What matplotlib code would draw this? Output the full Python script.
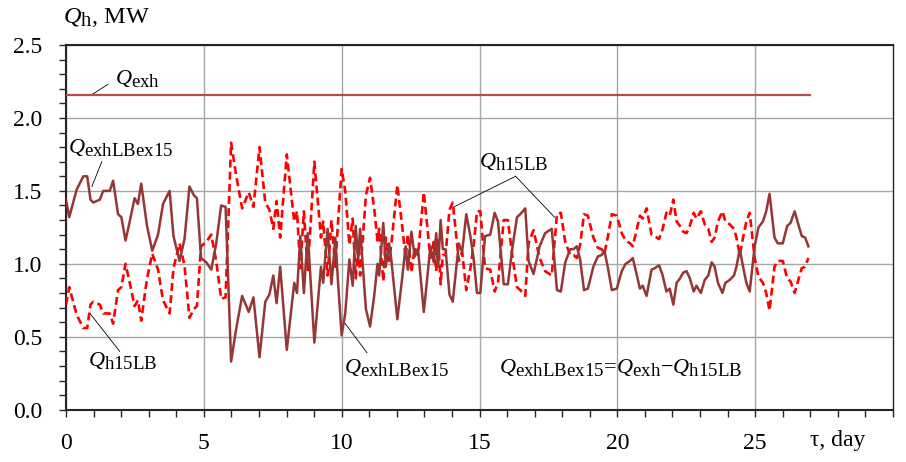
import matplotlib
matplotlib.use("Agg")
import matplotlib.pyplot as plt
from matplotlib.ticker import MultipleLocator
import matplotlib._mathtext as _mt

# larger subscripts, closer to the reference's typesetting
_mt.SHRINK_FACTOR = 0.85

plt.rcParams['font.family'] = ['Liberation Serif', 'DejaVu Serif']
plt.rcParams['mathtext.fontset'] = 'custom'
plt.rcParams['mathtext.rm'] = 'Liberation Serif'
plt.rcParams['mathtext.it'] = 'Liberation Serif:italic'

# ---- data ----
q_exh_value = 2.16
q_exh_days = [0.0, 27.0]
q_exh = [q_exh_value, q_exh_value]

days = [
    0.00, 0.12, 0.39, 0.63, 0.77, 0.89, 0.99, 1.23, 1.35, 1.59,
    1.71, 1.89, 2.01, 2.16, 2.28, 2.49, 2.61, 2.73, 2.94, 3.13,
    3.34, 3.52, 3.76, 3.90, 4.12, 4.30, 4.48, 4.64, 4.75, 4.90,
    5.09, 5.27, 5.45, 5.63, 5.79, 5.99, 6.17, 6.39, 6.63, 6.80,
    7.02, 7.23, 7.38, 7.52, 7.64, 7.77, 8.01, 8.28, 8.38, 8.50,
    8.63, 8.77, 9.01, 9.25, 9.33, 9.49, 9.63, 9.77, 9.87, 10.00,
    10.13, 10.28, 10.40, 10.51, 10.60, 10.67, 10.88, 11.03, 11.18, 11.30,
    11.36, 11.51, 11.60, 11.72, 11.80, 12.02, 12.20, 12.32, 12.40, 12.53,
    12.65, 12.77, 12.98, 13.22, 13.34, 13.43, 13.50, 13.59, 13.67, 13.77,
    13.91, 14.03, 14.19, 14.25, 14.37, 14.52, 14.67, 14.79, 14.91, 15.03,
    15.20, 15.39, 15.55, 15.67, 15.88, 16.03, 16.20, 16.36, 16.48, 16.66,
    16.78, 16.96, 17.18, 17.38, 17.62, 17.81, 17.95, 18.11, 18.29, 18.41,
    18.53, 18.65, 18.79, 18.93, 19.13, 19.29, 19.43, 19.53, 19.65, 19.80,
    19.98, 20.16, 20.30, 20.46, 20.56, 20.66, 20.82, 20.92, 21.06, 21.24,
    21.36, 21.51, 21.63, 21.78, 21.90, 22.03, 22.15, 22.27, 22.39, 22.51,
    22.63, 22.77, 22.87, 23.03, 23.17, 23.30, 23.42, 23.53, 23.65, 23.81,
    23.92, 24.08, 24.23, 24.32, 24.44, 24.56, 24.68, 24.80, 24.98, 25.12,
    25.28, 25.40, 25.52, 25.70, 25.82, 26.00, 26.16, 26.28, 26.43, 26.58,
    26.69, 26.81, 26.93,
]

q_exhLBex15 = [
    1.44, 1.32, 1.51, 1.60, 1.60, 1.44, 1.42, 1.44, 1.50, 1.50,
    1.57, 1.34, 1.32, 1.16, 1.26, 1.45, 1.41, 1.55, 1.26, 1.09,
    1.20, 1.41, 1.50, 1.19, 1.02, 1.17, 1.53, 1.47, 1.45, 1.04,
    1.01, 0.96, 1.14, 1.40, 1.39, 0.33, 0.55, 0.78, 0.67, 0.77,
    0.36, 0.74, 0.79, 0.92, 0.73, 0.98, 0.41, 0.87, 0.80, 1.19,
    0.80, 1.21, 0.46, 0.98, 0.87, 1.24, 0.86, 1.18, 0.87, 0.51,
    0.66, 1.03, 0.85, 1.26, 1.03, 1.24, 0.69, 0.57, 0.78, 1.00,
    0.92, 1.28, 0.98, 1.14, 1.03, 0.62, 0.91, 1.12, 0.96, 1.22,
    1.05, 1.10, 0.67, 1.12, 1.01, 1.21, 0.98, 1.30, 1.10, 1.10,
    0.79, 0.74, 1.03, 1.14, 1.08, 1.34, 1.19, 1.03, 0.80, 0.80,
    1.19, 1.20, 1.35, 1.29, 0.86, 0.86, 1.12, 1.32, 1.34, 1.38,
    1.02, 0.93, 1.12, 1.21, 1.24, 0.82, 0.81, 1.01, 1.10, 1.10,
    1.12, 1.03, 0.82, 0.83, 0.98, 1.05, 1.06, 1.09, 0.98, 0.82,
    0.83, 0.95, 1.00, 1.02, 1.04, 0.96, 0.83, 0.85, 0.78, 0.96,
    0.97, 0.99, 0.93, 0.81, 0.83, 0.72, 0.87, 0.90, 0.94, 0.95,
    0.90, 0.81, 0.85, 0.80, 0.89, 0.92, 1.01, 0.98, 0.87, 0.80,
    0.87, 0.89, 0.92, 0.98, 1.10, 0.98, 0.87, 0.81, 1.12, 1.25,
    1.29, 1.36, 1.48, 1.18, 1.14, 1.14, 1.26, 1.28, 1.36, 1.26,
    1.19, 1.18, 1.12,
]

q_h15LB = [
    0.72, 0.84, 0.65, 0.56, 0.56, 0.72, 0.74, 0.72, 0.66, 0.66,
    0.59, 0.82, 0.84, 1.00, 0.90, 0.71, 0.75, 0.61, 0.90, 1.07,
    0.96, 0.75, 0.66, 0.97, 1.14, 0.99, 0.63, 0.69, 0.71, 1.12,
    1.15, 1.20, 1.02, 0.76, 0.77, 1.83, 1.61, 1.38, 1.49, 1.39,
    1.80, 1.42, 1.37, 1.24, 1.43, 1.18, 1.75, 1.29, 1.36, 0.97,
    1.36, 0.95, 1.70, 1.18, 1.29, 0.92, 1.30, 0.98, 1.29, 1.65,
    1.50, 1.13, 1.31, 0.90, 1.13, 0.92, 1.47, 1.59, 1.38, 1.16,
    1.24, 0.88, 1.18, 1.02, 1.13, 1.54, 1.25, 1.04, 1.20, 0.94,
    1.11, 1.06, 1.49, 1.04, 1.15, 0.95, 1.18, 0.86, 1.06, 1.06,
    1.37, 1.42, 1.13, 1.02, 1.08, 0.82, 0.97, 1.13, 1.36, 1.36,
    0.97, 0.96, 0.81, 0.87, 1.30, 1.30, 1.04, 0.84, 0.82, 0.78,
    1.14, 1.23, 1.04, 0.95, 0.92, 1.34, 1.35, 1.15, 1.06, 1.06,
    1.04, 1.13, 1.34, 1.33, 1.18, 1.11, 1.10, 1.07, 1.18, 1.34,
    1.33, 1.21, 1.16, 1.14, 1.12, 1.20, 1.33, 1.31, 1.38, 1.20,
    1.19, 1.17, 1.23, 1.35, 1.33, 1.44, 1.29, 1.26, 1.22, 1.21,
    1.26, 1.35, 1.31, 1.36, 1.27, 1.24, 1.15, 1.18, 1.29, 1.36,
    1.29, 1.27, 1.24, 1.18, 1.06, 1.18, 1.29, 1.35, 1.04, 0.91,
    0.87, 0.80, 0.68, 0.98, 1.02, 1.02, 0.90, 0.88, 0.80, 0.90,
    0.97, 0.98, 1.04,
]

x_ticks = [0, 5, 10, 15, 20, 25]
x_tick_labels = ['0', '5', '10', '15', '20', '25']
y_ticks = [0.0, 0.5, 1.0, 1.5, 2.0, 2.5]
y_tick_labels = ['0.0', '0.5', '1.0', '1.5', '2.0', '2.5']

# ---- figure ----
fig = plt.figure(figsize=(9.06, 4.62), dpi=100)
ax = fig.add_axes([0.0728, 0.1132, 0.9129, 0.7894])

c_exh = '#be4b48'
c_solid = '#953735'
c_dash = '#ff0000'

ax.plot(q_exh_days, q_exh, color=c_exh, lw=1.6, zorder=3)
ax.plot(days, q_h15LB, color=c_dash, lw=1.9, dashes=(3, 1.6), zorder=3)
ax.plot(days, q_exhLBex15, color=c_solid, lw=1.8, zorder=4)

ax.set_xlim(0, 30)
ax.set_ylim(0, 2.5)
ax.set_xticks(x_ticks)
ax.set_xticklabels(x_tick_labels)
ax.set_yticks(y_ticks)
ax.set_yticklabels(y_tick_labels)
ax.xaxis.set_minor_locator(MultipleLocator(1))
ax.yaxis.set_minor_locator(MultipleLocator(0.1))
ax.grid(True, which='major', color='#a6a6a6', lw=1.0, zorder=0)
ax.set_axisbelow(True)

ax.tick_params(axis='both', which='both', direction='out', color='#262626',
               labelsize=17, width=1.0)
ax.tick_params(axis='x', which='both', length=5, pad=12)
ax.tick_params(axis='y', which='both', length=5, pad=12)

for s in ax.spines.values():
    s.set_color('#262626')
    s.set_linewidth(1.5)
ax.spines['right'].set_linewidth(1.0)

fs = 16
# axis labels
ax.text(-0.11, 2.69, r'$Q_{\mathrm{h}}$, MW', fontsize=17.5, ha='left', va='center',
        clip_on=False)
ax.text(26.98, -0.21, 'τ, day', fontsize=17, ha='left', va='center', clip_on=False)

# annotations
ax.text(1.77, 2.27, r'$Q_{\mathrm{exh}}$', fontsize=fs, ha='left', va='center')
ax.plot([0.94, 1.52], [2.16, 2.23], color='black', lw=0.6)

ax.text(0.07, 1.80, r'$Q_{\mathrm{exhLBex15}}$', fontsize=fs, ha='left', va='center')
ax.plot([1.30, 0.94], [1.70, 1.53], color='black', lw=0.6)

ax.text(0.80, 0.34, r'$Q_{\mathrm{h15LB}}$', fontsize=fs, ha='left', va='center')
ax.plot([1.95, 0.87], [0.40, 0.66], color='black', lw=0.6)

ax.text(10.09, 0.29, r'$Q_{\mathrm{exhLBex15}}$', fontsize=fs, ha='left', va='center')
ax.plot([10.92, 10.09], [0.39, 0.60], color='black', lw=0.6)

ax.text(14.97, 1.70, r'$Q_{\mathrm{h15LB}}$', fontsize=fs, ha='left', va='center')
ax.plot([16.31, 14.07], [1.60, 1.39], color='black', lw=0.6)
ax.plot([16.31, 17.72], [1.60, 1.32], color='black', lw=0.6)

ax.text(15.70, 0.29, r'$Q_{\mathrm{exhLBex15}}$=$Q_{\mathrm{exh}}$−$Q_{\mathrm{h15LB}}$',
        fontsize=fs, ha='left', va='center')

fig.savefig('out.png', dpi=100)
